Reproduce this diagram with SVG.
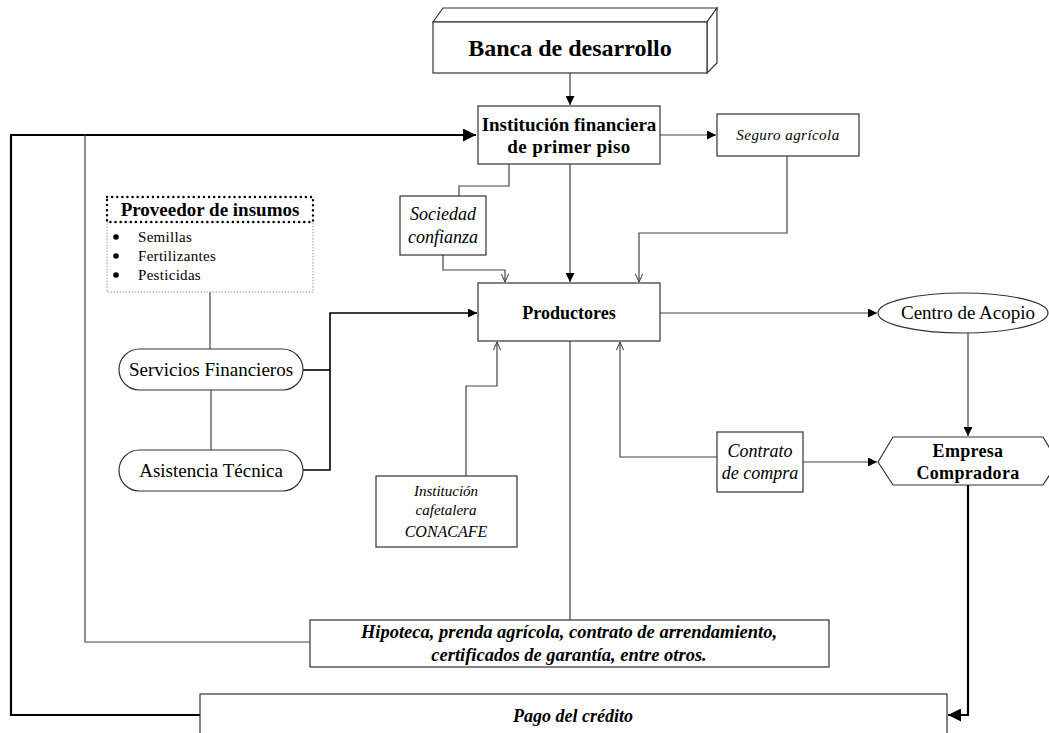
<svg xmlns="http://www.w3.org/2000/svg" width="1049" height="733" viewBox="0 0 1049 733">
<style>
.box{fill:#fff;stroke:#333;stroke-width:1.2}
.ln{fill:none;stroke:#444;stroke-width:1.2}
.thk{fill:none;stroke:#000;stroke-width:2.2}
.med{fill:none;stroke:#000;stroke-width:1.6}
text{font-family:"Liberation Serif","Times New Roman",serif;fill:#000;text-anchor:middle}
.b{font-weight:bold}
.i{font-style:italic}
</style>
<defs>
<marker id="af" viewBox="0 0 10 10" refX="10" refY="5" markerWidth="9" markerHeight="9" markerUnits="userSpaceOnUse" orient="auto"><path d="M0,0 L10,5 L0,10 Z" fill="#000"/></marker>
<marker id="ak" viewBox="0 0 10 10" refX="10" refY="5" markerWidth="13" markerHeight="13" markerUnits="userSpaceOnUse" orient="auto"><path d="M0,0 L10,5 L0,10 Z" fill="#000"/></marker>
<marker id="av" viewBox="0 0 10 10" refX="10" refY="5" markerWidth="9" markerHeight="9" markerUnits="userSpaceOnUse" orient="auto"><path d="M1,1 L10,5 L1,9" fill="none" stroke="#444" stroke-width="1.2"/></marker>
</defs>

<g id="connectors">
<line class="ln" x1="570" y1="73" x2="570" y2="105" marker-end="url(#af)"/>
<polyline class="thk" points="200,715 11,715 11,135 476,135" marker-end="url(#ak)"/>
<polyline class="ln" points="85,135 85,642 310,642"/>
<line class="ln" x1="660" y1="135" x2="716" y2="135" marker-end="url(#af)"/>
<polyline class="ln" points="509,164 509,186 459,186 459,196"/>
<polyline class="ln" points="443,255 443,270 505,270 505,282" marker-end="url(#av)"/>
<line class="ln" x1="570" y1="164" x2="570" y2="282" marker-end="url(#af)"/>
<polyline class="ln" points="787,156 787,233 639,233 639,282" marker-end="url(#av)"/>
<line class="ln" x1="210" y1="292" x2="210" y2="349"/>
<line class="ln" x1="211" y1="390" x2="211" y2="450"/>
<polyline class="med" points="303,370 330,370"/>
<polyline class="med" points="303,470 330,470 330,313 477,313" marker-end="url(#af)"/>
<polyline class="ln" points="466,476 466,386 497,386 497,342" marker-end="url(#av)"/>
<line class="ln" x1="660" y1="313" x2="877" y2="313" marker-end="url(#af)"/>
<line class="ln" x1="968" y1="333" x2="968" y2="436" marker-end="url(#af)"/>
<polyline class="ln" points="717,457 620,457 620,342" marker-end="url(#av)"/>
<line class="ln" x1="803" y1="462" x2="877" y2="462" marker-end="url(#af)"/>
<line class="ln" x1="570" y1="341" x2="570" y2="620"/>
<polyline class="thk" points="968,485 968,715 948,715" marker-end="url(#ak)"/>
</g>

<g id="banca">
<polygon class="box" points="433,22 443,8 717,8 707,22"/>
<polygon class="box" points="707,22 717,8 717,63 707,73"/>
<rect class="box" x="433" y="22" width="274" height="51"/>
<text class="b" x="570" y="56" font-size="24">Banca de desarrollo</text>
</g>

<g id="institucion">
<rect class="box" x="478" y="106" width="182" height="58"/>
<text class="b" x="569" y="131" font-size="19">Institución financiera</text>
<text class="b" x="569" y="153" font-size="19" letter-spacing="0.4">de primer piso</text>
</g>

<g id="seguro">
<rect class="box" x="717" y="114" width="142" height="42"/>
<text class="i" x="788" y="140" font-size="15" letter-spacing="0.45">Seguro agrícola</text>
</g>

<g id="sociedad">
<rect class="box" x="400" y="196" width="86" height="59"/>
<text class="i" x="443" y="220" font-size="18">Sociedad</text>
<text class="i" x="443" y="243" font-size="18">confianza</text>
</g>

<g id="proveedor">
<rect x="107" y="222" width="206" height="70" fill="#fff" stroke="#999" stroke-width="1" stroke-dasharray="1.5,1.5"/>
<rect x="107" y="197" width="206" height="25" fill="#fff" stroke="#000" stroke-width="2.4" stroke-dasharray="0.1,5" stroke-linecap="round"/>
<text class="b" x="210" y="216" font-size="19">Proveedor de insumos</text>
<circle cx="116" cy="237" r="2.8" fill="#000"/>
<circle cx="116" cy="256" r="2.8" fill="#000"/>
<circle cx="116" cy="275" r="2.8" fill="#000"/>
<text x="138" y="242" font-size="15" letter-spacing="0.3" style="text-anchor:start">Semillas</text>
<text x="138" y="261" font-size="15" letter-spacing="0.3" style="text-anchor:start">Fertilizantes</text>
<text x="138" y="280" font-size="15" letter-spacing="0.3" style="text-anchor:start">Pesticidas</text>
</g>

<g id="servicios">
<rect class="box" x="119" y="349" width="184" height="41" rx="20.5"/>
<text x="211" y="376" font-size="19">Servicios Financieros</text>
</g>

<g id="asistencia">
<rect class="box" x="119" y="450" width="184" height="41" rx="20.5"/>
<text x="211" y="477" font-size="19">Asistencia Técnica</text>
</g>

<g id="productores">
<rect class="box" x="478" y="283" width="182" height="58"/>
<text class="b" x="569" y="319" font-size="18">Productores</text>
</g>

<g id="conacafe">
<rect class="box" x="376" y="476" width="141" height="71"/>
<text class="i" x="446" y="496" font-size="15">Institución</text>
<text class="i" x="446" y="515" font-size="15">cafetalera</text>
<text class="i" x="446" y="537" font-size="16">CONACAFE</text>
</g>

<g id="centro">
<ellipse class="box" cx="963" cy="313" rx="85" ry="20"/>
<text x="968" y="319" font-size="19">Centro de Acopio</text>
</g>

<g id="contrato">
<rect class="box" x="717" y="432" width="86" height="60"/>
<text class="i" x="760" y="457" font-size="18">Contrato</text>
<text class="i" x="760" y="479" font-size="18">de compra</text>
</g>

<g id="empresa">
<polygon class="box" points="878,462 893,437 1043,437 1058,462 1043,485 893,485"/>
<text class="b" x="968" y="457" font-size="18" letter-spacing="0.3">Empresa</text>
<text class="b" x="968" y="479" font-size="18" letter-spacing="0.3">Compradora</text>
</g>

<g id="hipoteca">
<rect class="box" x="310" y="620" width="519" height="47"/>
<text class="b i" x="569" y="638" font-size="18.5">Hipoteca, prenda agrícola, contrato de arrendamiento,</text>
<text class="b i" x="569" y="661" font-size="18.5">certificados de garantía, entre otros.</text>
</g>

<g id="pago">
<rect class="box" x="200" y="694" width="747" height="60"/>
<text class="b i" x="573" y="722" font-size="18">Pago del crédito</text>
</g>
</svg>
